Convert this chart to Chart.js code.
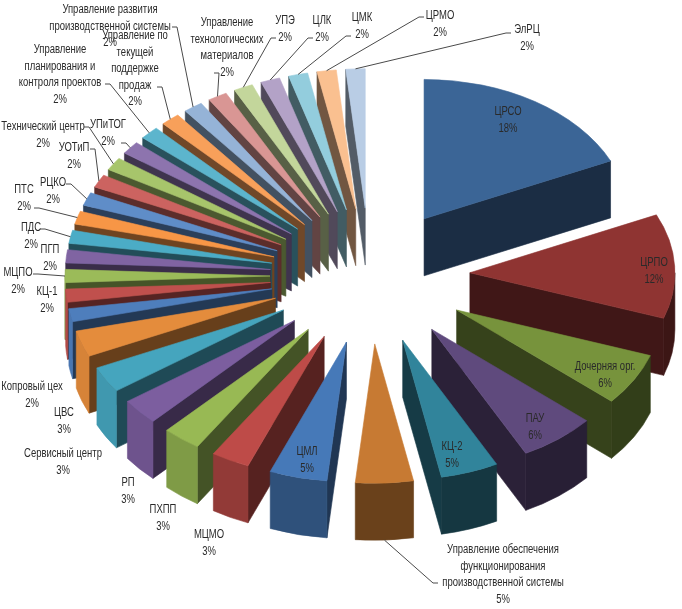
<!DOCTYPE html>
<html>
<head>
<meta charset="utf-8">
<script src="https://cdn.jsdelivr.net/npm/chart.js@4.4.1/dist/chart.umd.min.js"></script>
<style>
  html, body { margin: 0; padding: 0; background: #fff; }
  #wrap { width: 682px; height: 609px; }
</style>
</head>
<body>
<div id="wrap"><canvas id="chart" width="682" height="609"></canvas></div>
<script>
// 3D exploded pie, drawn from the pie controller's arcs

const categories = [
  'ЦРСО', 'ЦРПО', 'Дочерняя орг.', 'ПАУ', 'КЦ-2',
  'Управление обеспечения функционирования производственной системы',
  'ЦМЛ', 'МЦМО', 'ПХПП', 'РП', 'Сервисный центр', 'ЦВС', 'Копровый цех',
  'КЦ-1', 'МЦПО', 'ПГП', 'ПДС', 'ПТС', 'РЦКО', 'УОТиП', 'Технический центр',
  'УПиТОГ', 'Управление планирования и контроля проектов',
  'Управление по текущей поддержке продаж',
  'Управление развития производственной системы',
  'Управление технологических материалов',
  'УПЭ', 'ЦЛК', 'ЦМК', 'ЦРМО', 'ЭлРЦ'
];

const counts = [12, 8, 4, 4, 3, 3, 3, 2, 2, 2, 2, 2, 1, 1, 1, 1, 1, 1, 1, 1, 1, 1, 1, 1, 1, 1, 1, 1, 1, 1, 1];

const sliceColors = [
  '#3b6596', '#8f3432', '#77933c', '#5f4a7d', '#31849b', '#c77a33',
  '#4679b8', '#be4b48', '#98b954', '#7c5e9f', '#45a5be', '#e48c3c',
  '#4e7ebc', '#c0504d', '#9bbb59', '#8064a2', '#4bacc6', '#f79646',
  '#5f8dc8', '#cc6360', '#a7c56b', '#8d74ae', '#5cb5cd', '#f8a05a',
  '#95b3d7', '#d99694', '#c3d69b', '#b3a2c7', '#93cddd', '#fac090', '#b9cde5'
];

// label layout: [centre x, first line y, wrap width, leader start x, leader start y]
const labelLayout = [
  [508, 112, 0], [654, 263, 0], [605, 367, 0], [535, 419, 0], [452, 447, 0],
  [503, 550, 130, 438, 583],
  [307, 452, 0], [209, 535, 0], [163, 510, 0], [128, 483, 0], [63, 454, 0],
  [64, 413, 0], [32, 387, 0], [47, 292, 0],
  [18, 273, 0, 33, 274], [50, 250, 0], [31, 228, 0, 40, 229], [24, 190, 0, 34, 208],
  [53, 183, 0, 66, 184], [74, 148, 0, 90, 149], [43, 127, 0, 84, 127],
  [108, 125, 0, 121, 143],
  [60, 50, 90, 105, 84],
  [135, 36, 68, 157, 87],
  [110, 10, 125, 172, 27],
  [227, 23, 80, 214, 73],
  [285, 21, 0, 276, 38], [322, 21, 0, 313, 38], [362, 18, 0, 351, 36],
  [440, 16, 0, 424, 17], [527, 30, 0, 511, 33]
];

const TILT = 0.68;      // vertical squash of the pie plane
const EXPLODE = 100;    // slice explosion, px
const DEPTH = 57;       // pie thickness, px
const LIGHT = 165 * Math.PI / 180;
const FONT = '12px "Liberation Sans", Arial, sans-serif';
const TEXT_SX = 0.79;   // narrow the face to look like Calibri
const LINE_H = 16.5;

const total = counts.reduce((s, v) => s + v, 0);

function shade(hex, f) {
  const n = parseInt(hex.slice(1), 16);
  const r = Math.round(((n >> 16) & 255) * f);
  const g = Math.round(((n >> 8) & 255) * f);
  const b = Math.round((n & 255) * f);
  return `rgb(${r},${g},${b})`;
}

function sliceGeom(arc) {
  const p = arc.getProps(['x', 'y', 'startAngle', 'endAngle', 'outerRadius'], true);
  const m = (p.startAngle + p.endAngle) / 2;
  return {
    a0: p.startAngle, a1: p.endAngle, m, R: p.outerRadius,
    ox: p.x + EXPLODE * Math.cos(m),
    oy: p.y + EXPLODE * TILT * Math.sin(m)
  };
}

function fillPath(ctx, color, build) {
  ctx.beginPath();
  build();
  ctx.closePath();
  ctx.fillStyle = color;
  ctx.strokeStyle = color;
  ctx.lineWidth = 0.6;
  ctx.fill();
  ctx.stroke();
}

function drawSlice(ctx, arc) {
  const g = sliceGeom(arc);
  const base = arc.options.backgroundColor;
  const ry = g.R * TILT;
  const pt = a => [g.ox + g.R * Math.cos(a), g.oy + ry * Math.sin(a)];

  const radialWall = a => {
    const [px, py] = pt(a);
    fillPath(ctx, shade(base, 0.45), () => {
      ctx.moveTo(g.ox, g.oy);
      ctx.lineTo(px, py);
      ctx.lineTo(px, py + DEPTH);
      ctx.lineTo(g.ox, g.oy + DEPTH);
    });
  };
  if (Math.cos(g.a0) < 0) radialWall(g.a0);
  if (Math.cos(g.a1) > 0) radialWall(g.a1);

  // outer curved wall, front half only
  const b0 = Math.max(g.a0, 0), b1 = Math.min(g.a1, Math.PI);
  if (b1 > b0) {
    const f = 0.42 + 0.52 * Math.max(0, Math.cos((b0 + b1) / 2 - LIGHT));
    fillPath(ctx, shade(base, f), () => {
      ctx.ellipse(g.ox, g.oy, g.R, ry, 0, b0, b1);
      ctx.ellipse(g.ox, g.oy + DEPTH, g.R, ry, 0, b1, b0, true);
    });
  }

  fillPath(ctx, base, () => {
    ctx.moveTo(g.ox, g.oy);
    ctx.ellipse(g.ox, g.oy, g.R, ry, 0, g.a0, g.a1);
  });
}

function textW(ctx, t) {
  return ctx.measureText(t).width * TEXT_SX;
}

function wrapText(ctx, text, width) {
  if (!width) return [text];
  const words = text.split(' ');
  const lines = [];
  let cur = '';
  words.forEach(w => {
    const test = cur ? cur + ' ' + w : w;
    if (cur && textW(ctx, test) > width) {
      lines.push(cur);
      cur = w;
    } else {
      cur = test;
    }
  });
  if (cur) lines.push(cur);
  return lines;
}

function drawLabels(chart) {
  const ctx = chart.ctx;
  const arcs = chart.getDatasetMeta(0).data;
  ctx.save();
  ctx.font = FONT;
  ctx.textAlign = 'center';
  ctx.textBaseline = 'middle';
  arcs.forEach((arc, i) => {
    const [x, y, w, lx, ly] = labelLayout[i];
    const pct = Math.round(counts[i] / total * 100) + '%';
    const lines = wrapText(ctx, categories[i], w).concat(pct);

    if (lx != null) {
      const g = sliceGeom(arc);
      let ax = g.ox + g.R * Math.cos(g.m);
      let ay = g.oy + g.R * TILT * Math.sin(g.m);
      if (ly > ay && Math.sin(g.m) > 0) ay += DEPTH;
      const dir = ax > lx ? 1 : -1;
      ctx.beginPath();
      ctx.moveTo(lx, ly);
      ctx.lineTo(lx + dir * 5, ly);
      ctx.lineTo(ax, ay);
      ctx.strokeStyle = '#4a4a4a';
      ctx.lineWidth = 1;
      ctx.stroke();
    }

    ctx.fillStyle = '#2a2a2a';
    lines.forEach((t, k) => {
      ctx.save();
      ctx.translate(x, y + k * LINE_H);
      ctx.scale(TEXT_SX, 1);
      ctx.fillText(t, 0, 0);
      ctx.restore();
    });
  });
  ctx.restore();
}

const pie3d = {
  id: 'pie3d',
  beforeDatasetsDraw(chart) {
    const ctx = chart.ctx;
    const arcs = chart.getDatasetMeta(0).data;
    const order = arcs.map((a, i) => i)
      .sort((i, j) => Math.sin(sliceGeom(arcs[i]).m) - Math.sin(sliceGeom(arcs[j]).m));
    ctx.save();
    order.forEach(i => drawSlice(ctx, arcs[i]));
    ctx.restore();
    return false;
  },
  afterDraw(chart) {
    drawLabels(chart);
  }
};

new Chart(document.getElementById('chart'), {
  type: 'pie',
  data: {
    labels: categories,
    datasets: [{
      data: counts,
      backgroundColor: sliceColors,
      borderWidth: 0,
      radius: 205
    }]
  },
  options: {
    responsive: false,
    animation: false,
    layout: { padding: { left: 58, right: 0, top: 0, bottom: 57 } },
    plugins: { legend: { display: false }, tooltip: { enabled: false } }
  },
  plugins: [pie3d]
});
</script>
</body>
</html>
